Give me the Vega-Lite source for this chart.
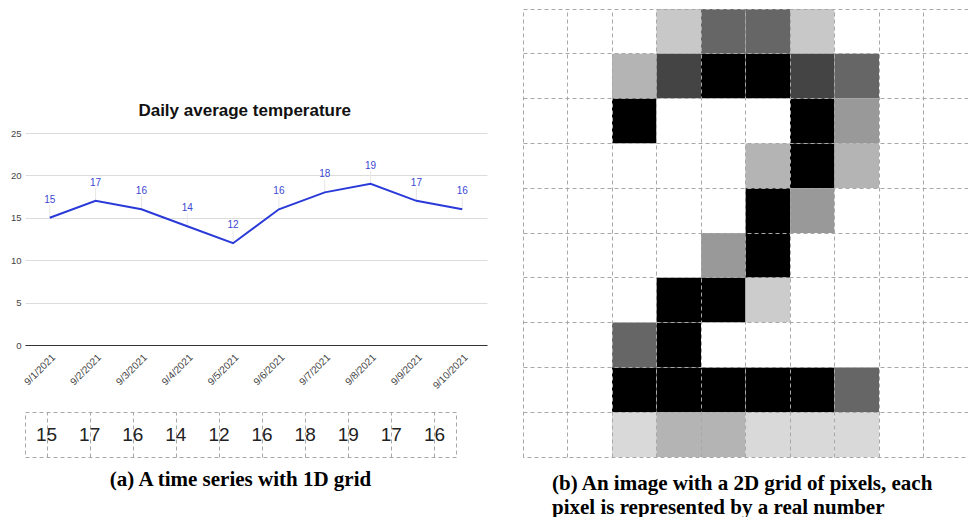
{
  "$schema": "https://vega.github.io/schema/vega-lite/v6.json",
  "padding": {"left": 10, "top": 8, "right": 0, "bottom": 0},
  "autosize": {"type": "pad"},
  "background": "white",
  "config": {"view": {"stroke": null}, "font": "Liberation Sans"},
  "datasets": {
    "temps": [
      {"date": "9/1/2021", "temp": 15},
      {"date": "9/2/2021", "temp": 17},
      {"date": "9/3/2021", "temp": 16},
      {"date": "9/4/2021", "temp": 14},
      {"date": "9/5/2021", "temp": 12},
      {"date": "9/6/2021", "temp": 16},
      {"date": "9/7/2021", "temp": 18},
      {"date": "9/8/2021", "temp": 19},
      {"date": "9/9/2021", "temp": 17},
      {"date": "9/10/2021", "temp": 16}
    ],
    "pixels": [
      {"r": 0, "c": 0, "v": 255}, {"r": 0, "c": 1, "v": 255}, {"r": 0, "c": 2, "v": 255}, {"r": 0, "c": 3, "v": 200}, {"r": 0, "c": 4, "v": 102}, {"r": 0, "c": 5, "v": 102}, {"r": 0, "c": 6, "v": 200}, {"r": 0, "c": 7, "v": 255}, {"r": 0, "c": 8, "v": 255}, {"r": 0, "c": 9, "v": 255},
      {"r": 1, "c": 0, "v": 255}, {"r": 1, "c": 1, "v": 255}, {"r": 1, "c": 2, "v": 180}, {"r": 1, "c": 3, "v": 68}, {"r": 1, "c": 4, "v": 0}, {"r": 1, "c": 5, "v": 0}, {"r": 1, "c": 6, "v": 68}, {"r": 1, "c": 7, "v": 102}, {"r": 1, "c": 8, "v": 255}, {"r": 1, "c": 9, "v": 255},
      {"r": 2, "c": 0, "v": 255}, {"r": 2, "c": 1, "v": 255}, {"r": 2, "c": 2, "v": 0}, {"r": 2, "c": 3, "v": 255}, {"r": 2, "c": 4, "v": 255}, {"r": 2, "c": 5, "v": 255}, {"r": 2, "c": 6, "v": 0}, {"r": 2, "c": 7, "v": 153}, {"r": 2, "c": 8, "v": 255}, {"r": 2, "c": 9, "v": 255},
      {"r": 3, "c": 0, "v": 255}, {"r": 3, "c": 1, "v": 255}, {"r": 3, "c": 2, "v": 255}, {"r": 3, "c": 3, "v": 255}, {"r": 3, "c": 4, "v": 255}, {"r": 3, "c": 5, "v": 180}, {"r": 3, "c": 6, "v": 0}, {"r": 3, "c": 7, "v": 180}, {"r": 3, "c": 8, "v": 255}, {"r": 3, "c": 9, "v": 255},
      {"r": 4, "c": 0, "v": 255}, {"r": 4, "c": 1, "v": 255}, {"r": 4, "c": 2, "v": 255}, {"r": 4, "c": 3, "v": 255}, {"r": 4, "c": 4, "v": 255}, {"r": 4, "c": 5, "v": 0}, {"r": 4, "c": 6, "v": 153}, {"r": 4, "c": 7, "v": 255}, {"r": 4, "c": 8, "v": 255}, {"r": 4, "c": 9, "v": 255},
      {"r": 5, "c": 0, "v": 255}, {"r": 5, "c": 1, "v": 255}, {"r": 5, "c": 2, "v": 255}, {"r": 5, "c": 3, "v": 255}, {"r": 5, "c": 4, "v": 153}, {"r": 5, "c": 5, "v": 0}, {"r": 5, "c": 6, "v": 255}, {"r": 5, "c": 7, "v": 255}, {"r": 5, "c": 8, "v": 255}, {"r": 5, "c": 9, "v": 255},
      {"r": 6, "c": 0, "v": 255}, {"r": 6, "c": 1, "v": 255}, {"r": 6, "c": 2, "v": 255}, {"r": 6, "c": 3, "v": 0}, {"r": 6, "c": 4, "v": 0}, {"r": 6, "c": 5, "v": 204}, {"r": 6, "c": 6, "v": 255}, {"r": 6, "c": 7, "v": 255}, {"r": 6, "c": 8, "v": 255}, {"r": 6, "c": 9, "v": 255},
      {"r": 7, "c": 0, "v": 255}, {"r": 7, "c": 1, "v": 255}, {"r": 7, "c": 2, "v": 102}, {"r": 7, "c": 3, "v": 0}, {"r": 7, "c": 4, "v": 255}, {"r": 7, "c": 5, "v": 255}, {"r": 7, "c": 6, "v": 255}, {"r": 7, "c": 7, "v": 255}, {"r": 7, "c": 8, "v": 255}, {"r": 7, "c": 9, "v": 255},
      {"r": 8, "c": 0, "v": 255}, {"r": 8, "c": 1, "v": 255}, {"r": 8, "c": 2, "v": 0}, {"r": 8, "c": 3, "v": 0}, {"r": 8, "c": 4, "v": 0}, {"r": 8, "c": 5, "v": 0}, {"r": 8, "c": 6, "v": 0}, {"r": 8, "c": 7, "v": 102}, {"r": 8, "c": 8, "v": 255}, {"r": 8, "c": 9, "v": 255},
      {"r": 9, "c": 0, "v": 255}, {"r": 9, "c": 1, "v": 255}, {"r": 9, "c": 2, "v": 217}, {"r": 9, "c": 3, "v": 180}, {"r": 9, "c": 4, "v": 180}, {"r": 9, "c": 5, "v": 217}, {"r": 9, "c": 6, "v": 217}, {"r": 9, "c": 7, "v": 217}, {"r": 9, "c": 8, "v": 255}, {"r": 9, "c": 9, "v": 255}
    ]
  },
  "hconcat": [
    {
      "vconcat": [
        {
          "width": 10,
          "height": 73,
          "data": {"values": []},
          "mark": "point"
        },
        {
          "width": 462,
          "height": 212,
          "title": {
            "text": "Daily average temperature",
            "fontSize": 17,
            "fontWeight": "bold",
            "font": "Liberation Sans",
            "color": "#111111",
            "anchor": "middle",
            "frame": "bounds",
            "baseline": "bottom",
            "offset": 13,
            "dy": 22,
            "dx": -4
          },
          "data": {"name": "temps"},
          "encoding": {
            "x": {
              "field": "date",
              "type": "ordinal",
              "sort": null,
              "scale": {"type": "point", "padding": 0.54},
              "axis": {
                "title": null,
                "labelAngle": -45,
                "labelFontSize": 10,
                "labelColor": "#444444",
                "ticks": false,
                "domainColor": "#333333",
                "domainWidth": 1,
                "labelPadding": 7,
                "grid": false
              }
            },
            "y": {
              "field": "temp",
              "type": "quantitative",
              "scale": {"domain": [0, 25], "nice": false},
              "axis": {
                "title": null,
                "values": [0, 5, 10, 15, 20, 25],
                "domain": false,
                "ticks": false,
                "labelPadding": 4,
                "labelFontSize": 9.5,
                "labelColor": "#444444",
                "gridColor": "#dcdcdc"
              }
            }
          },
          "layer": [
            {
              "mark": {"type": "rule", "y2Offset": -13, "color": "#e6e6e6", "strokeWidth": 1},
              "encoding": {"y2": {"field": "temp"}}
            },
            {
              "mark": {"type": "line", "color": "#2a3ad8", "strokeWidth": 2}
            },
            {
              "mark": {"type": "text", "dy": -15, "baseline": "alphabetic", "fontSize": 10, "color": "#3b48d2"},
              "encoding": {"text": {"field": "temp", "type": "quantitative"}}
            }
          ]
        },
        {
          "width": 431,
          "height": 45,
          "data": {"name": "temps"},
          "view": {"stroke": "#a8a8a8", "strokeDash": [4, 3], "strokeWidth": 1},
          "title": {
            "text": "(a) A time series with 1D grid",
            "orient": "bottom",
            "font": "Liberation Serif",
            "fontSize": 21,
            "fontWeight": "bold",
            "color": "#000000",
            "anchor": "middle",
            "offset": 12
          },
          "mark": {"type": "text", "fontSize": 19, "color": "#222222", "font": "Liberation Sans"},
          "encoding": {
            "x": {
              "field": "date",
              "type": "ordinal",
              "sort": null,
              "scale": {"paddingInner": 0, "paddingOuter": 0},
              "axis": {
                "title": null,
                "labels": false,
                "ticks": false,
                "domain": false,
                "grid": true,
                "bandPosition": 0,
                "gridColor": "#a8a8a8",
                "gridDash": [4, 3],
                "gridWidth": 1
              }
            },
            "text": {"field": "temp", "type": "quantitative"}
          }
        }
      ],
      "spacing": 20
    },
    {
      "width": 445,
      "height": 448,
      "data": {"name": "pixels"},
      "view": {"stroke": "#a8a8a8", "strokeDash": [4, 3], "strokeWidth": 1},
      "title": {
        "text": ["(b) An image with a 2D grid of pixels, each", "pixel is represented by a real number"],
        "orient": "bottom",
        "anchor": "start",
        "dx": 29,
        "font": "Liberation Serif",
        "fontSize": 21,
        "fontWeight": "bold",
        "color": "#000000",
        "lineHeight": 23.5,
        "offset": 16
      },
      "mark": {"type": "rect"},
      "encoding": {
        "x": {
          "field": "c",
          "type": "ordinal",
          "scale": {"paddingInner": 0, "paddingOuter": 0},
          "axis": {
            "title": null,
            "labels": false,
            "ticks": false,
            "domain": false,
            "grid": true,
            "bandPosition": 0,
            "gridColor": "#a8a8a8",
            "gridDash": [4, 3],
            "gridWidth": 1,
            "zindex": 1
          }
        },
        "y": {
          "field": "r",
          "type": "ordinal",
          "scale": {"paddingInner": 0, "paddingOuter": 0},
          "axis": {
            "title": null,
            "labels": false,
            "ticks": false,
            "domain": false,
            "grid": true,
            "bandPosition": 0,
            "gridColor": "#a8a8a8",
            "gridDash": [4, 3],
            "gridWidth": 1,
            "zindex": 1
          }
        },
        "color": {
          "field": "v",
          "type": "quantitative",
          "scale": {"domain": [0, 255], "range": ["#000000", "#ffffff"], "interpolate": "rgb"},
          "legend": null
        }
      }
    }
  ],
  "spacing": 35
}
